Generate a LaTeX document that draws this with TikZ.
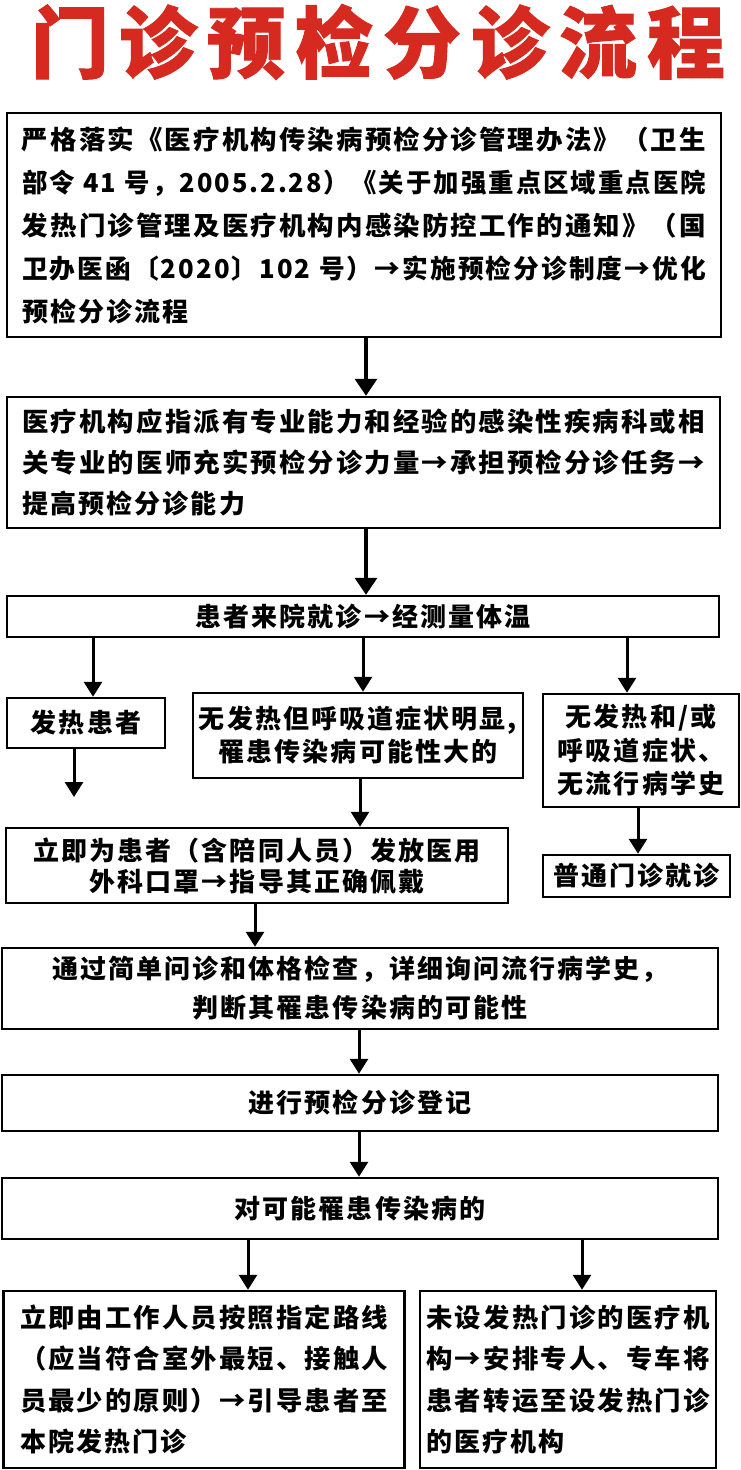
\documentclass[tikz,border=0pt]{standalone}
\usepackage{fontspec}
\usepackage{graphicx}
\setmainfont{Noto Sans CJK SC}
\newfontfamily\bodyfont{Noto Sans CJK SC}[LetterSpace=8]
\newfontfamily\titlefont{Noto Sans CJK SC}[FakeBold=1.2]
\usetikzlibrary{arrows.meta}
\definecolor{titlered}{HTML}{D62A21}
\newcommand\bsz[1]{\fontsize{26pt}{#1}\selectfont}
\newcommand\fitto[2]{\resizebox{#1}{\height}{#2}}
\begin{document}
\begin{tikzpicture}[x=1pt,y=-1pt,
  box/.style={draw=black, line width=2.5pt, rectangle, inner sep=0pt},
  arr/.style={line width=3pt, -{Triangle[width=18pt,length=15pt]}},
  bigarr/.style={line width=3.6pt, -{Triangle[width=22pt,length=17pt]}}
]
\useasboundingbox (0,0) rectangle (740,1470);
\fill[white] (0,0) rectangle (740,1470);

\node[font=\titlefont\bfseries\fontsize{78pt}{78pt}\selectfont, text=titlered, inner sep=0pt] (title) at (378,42)
  {门\hspace{10pt}诊\hspace{10pt}预\hspace{10pt}检\hspace{10pt}分\hspace{10pt}诊\hspace{10pt}流\hspace{10pt}程};

\node[box, minimum width=714pt, minimum height=224pt, text width=684pt, align=left,
  font=\bodyfont\bfseries\bsz{43pt}] (b1) at (364,225)
  {\fitto{684pt}{严格落实《医疗机构传染病预检分诊管理办法》（卫生}\\
   \fitto{684pt}{部令 41 号，2005.2.28）《关于加强重点区域重点医院}\\
   \fitto{684pt}{发热门诊管理及医疗机构内感染防控工作的通知》（国}\\
   \fitto{684pt}{卫办医函〔2020〕102 号）→实施预检分诊制度→优化}\\
   预检分诊流程};

\node[box, minimum width=713pt, minimum height=131pt, text width=682pt, align=left,
  font=\bodyfont\bfseries\bsz{41pt}] (b2) at (363.5,462.5)
  {\fitto{682pt}{医疗机构应指派有专业能力和经验的感染性疾病科或相}\\
   \fitto{682pt}{关专业的医师充实预检分诊力量→承担预检分诊任务→}\\
   提高预检分诊能力};

\node[box, minimum width=712pt, minimum height=41pt, align=center,
  font=\bodyfont\bfseries\bsz{31pt}] (b3) at (363,616.5) {患者来院就诊→经测量体温};

\node[box, minimum width=158pt, minimum height=50pt, align=center,
  font=\bodyfont\bfseries\bsz{31pt}] (b4) at (86,723) {发热患者};

\node[box, minimum width=330pt, minimum height=85pt, align=center,
  font=\bodyfont\bfseries\bsz{33pt}] (b5) at (358,735.5) {无发热但呼吸道症状明显,\\罹患传染病可能性大的};

\node[box, minimum width=196pt, minimum height=113pt, align=center,
  font=\bodyfont\bfseries\bsz{33.5pt}] (b6) at (641,750.5) {无发热和/或\\呼吸道症状、\\无流行病学史};

\node[box, minimum width=502pt, minimum height=75pt, align=center,
  font=\bodyfont\bfseries\bsz{31pt}] (b7) at (257,865.5) {立即为患者（含陪同人员）发放医用\\外科口罩→指导其正确佩戴};

\node[box, minimum width=187pt, minimum height=42pt, align=center,
  font=\bodyfont\bfseries\bsz{31pt}] (b8) at (636.5,876) {普通门诊就诊};

\node[box, minimum width=716pt, minimum height=81pt, align=center,
  font=\bodyfont\bfseries\bsz{39pt}] (b9) at (360,988.5) {通过简单问诊和体格检查，详细询问流行病学史，\\判断其罹患传染病的可能性};

\node[box, minimum width=716pt, minimum height=56pt, align=center,
  font=\bodyfont\bfseries\bsz{31pt}] (b10) at (360,1103) {进行预检分诊登记};

\node[box, minimum width=716pt, minimum height=61pt, align=center,
  font=\bodyfont\bfseries\bsz{31pt}] (b11) at (360,1208.5) {对可能罹患传染病的};

\node[box, minimum width=401pt, minimum height=177pt, text width=368pt, align=left,
  font=\bodyfont\bfseries\bsz{41.5pt}] (b12) at (204,1379.5)
  {\fitto{368pt}{立即由工作人员按照指定路线}\\
   \fitto{368pt}{（应当符合室外最短、接触人}\\
   \fitto{368pt}{员最少的原则）→引导患者至}\\
   本院发热门诊};

\node[box, minimum width=296pt, minimum height=177pt, text width=283pt, align=left,
  font=\bodyfont\bfseries\bsz{41.5pt}] (b13) at (568,1379.5)
  {\fitto{283pt}{未设发热门诊的医疗机}\\
   \fitto{283pt}{构→安排专人、专车将}\\
   \fitto{283pt}{患者转运至设发热门诊}\\
   的医疗机构};

\coordinate (x366) at (366,0);
\coordinate (x93) at (93,0);
\coordinate (x363) at (363,0);
\coordinate (x627) at (627,0);
\coordinate (x74) at (74,0);
\coordinate (x360) at (360,0);
\coordinate (x638) at (638,0);
\coordinate (x255) at (255,0);
\coordinate (x359) at (359,0);
\coordinate (x248) at (248,0);
\coordinate (x582) at (582,0);
\coordinate (e1) at (74,797);

\draw[bigarr] (x366 |- b1.south) -- (x366 |- b2.north);
\draw[bigarr] (x366 |- b2.south) -- (x366 |- b3.north);
\draw[arr] (x93 |- b3.south) -- (x93 |- b4.north);
\draw[arr] (x363 |- b3.south) -- (x363 |- b5.north);
\draw[arr] (x627 |- b3.south) -- (x627 |- b6.north);
\draw[arr] (x74 |- b4.south) -- (e1);
\draw[arr] (x360 |- b5.south) -- (x360 |- b7.north);
\draw[arr] (x638 |- b6.south) -- (x638 |- b8.north);
\draw[arr] (x255 |- b7.south) -- (x255 |- b9.north);
\draw[arr] (x359 |- b9.south) -- (x359 |- b10.north);
\draw[arr] (x359 |- b10.south) -- (x359 |- b11.north);
\draw[arr] (x248 |- b11.south) -- (x248 |- b12.north);
\draw[arr] (x582 |- b11.south) -- (x582 |- b13.north);
\end{tikzpicture}
\end{document}
